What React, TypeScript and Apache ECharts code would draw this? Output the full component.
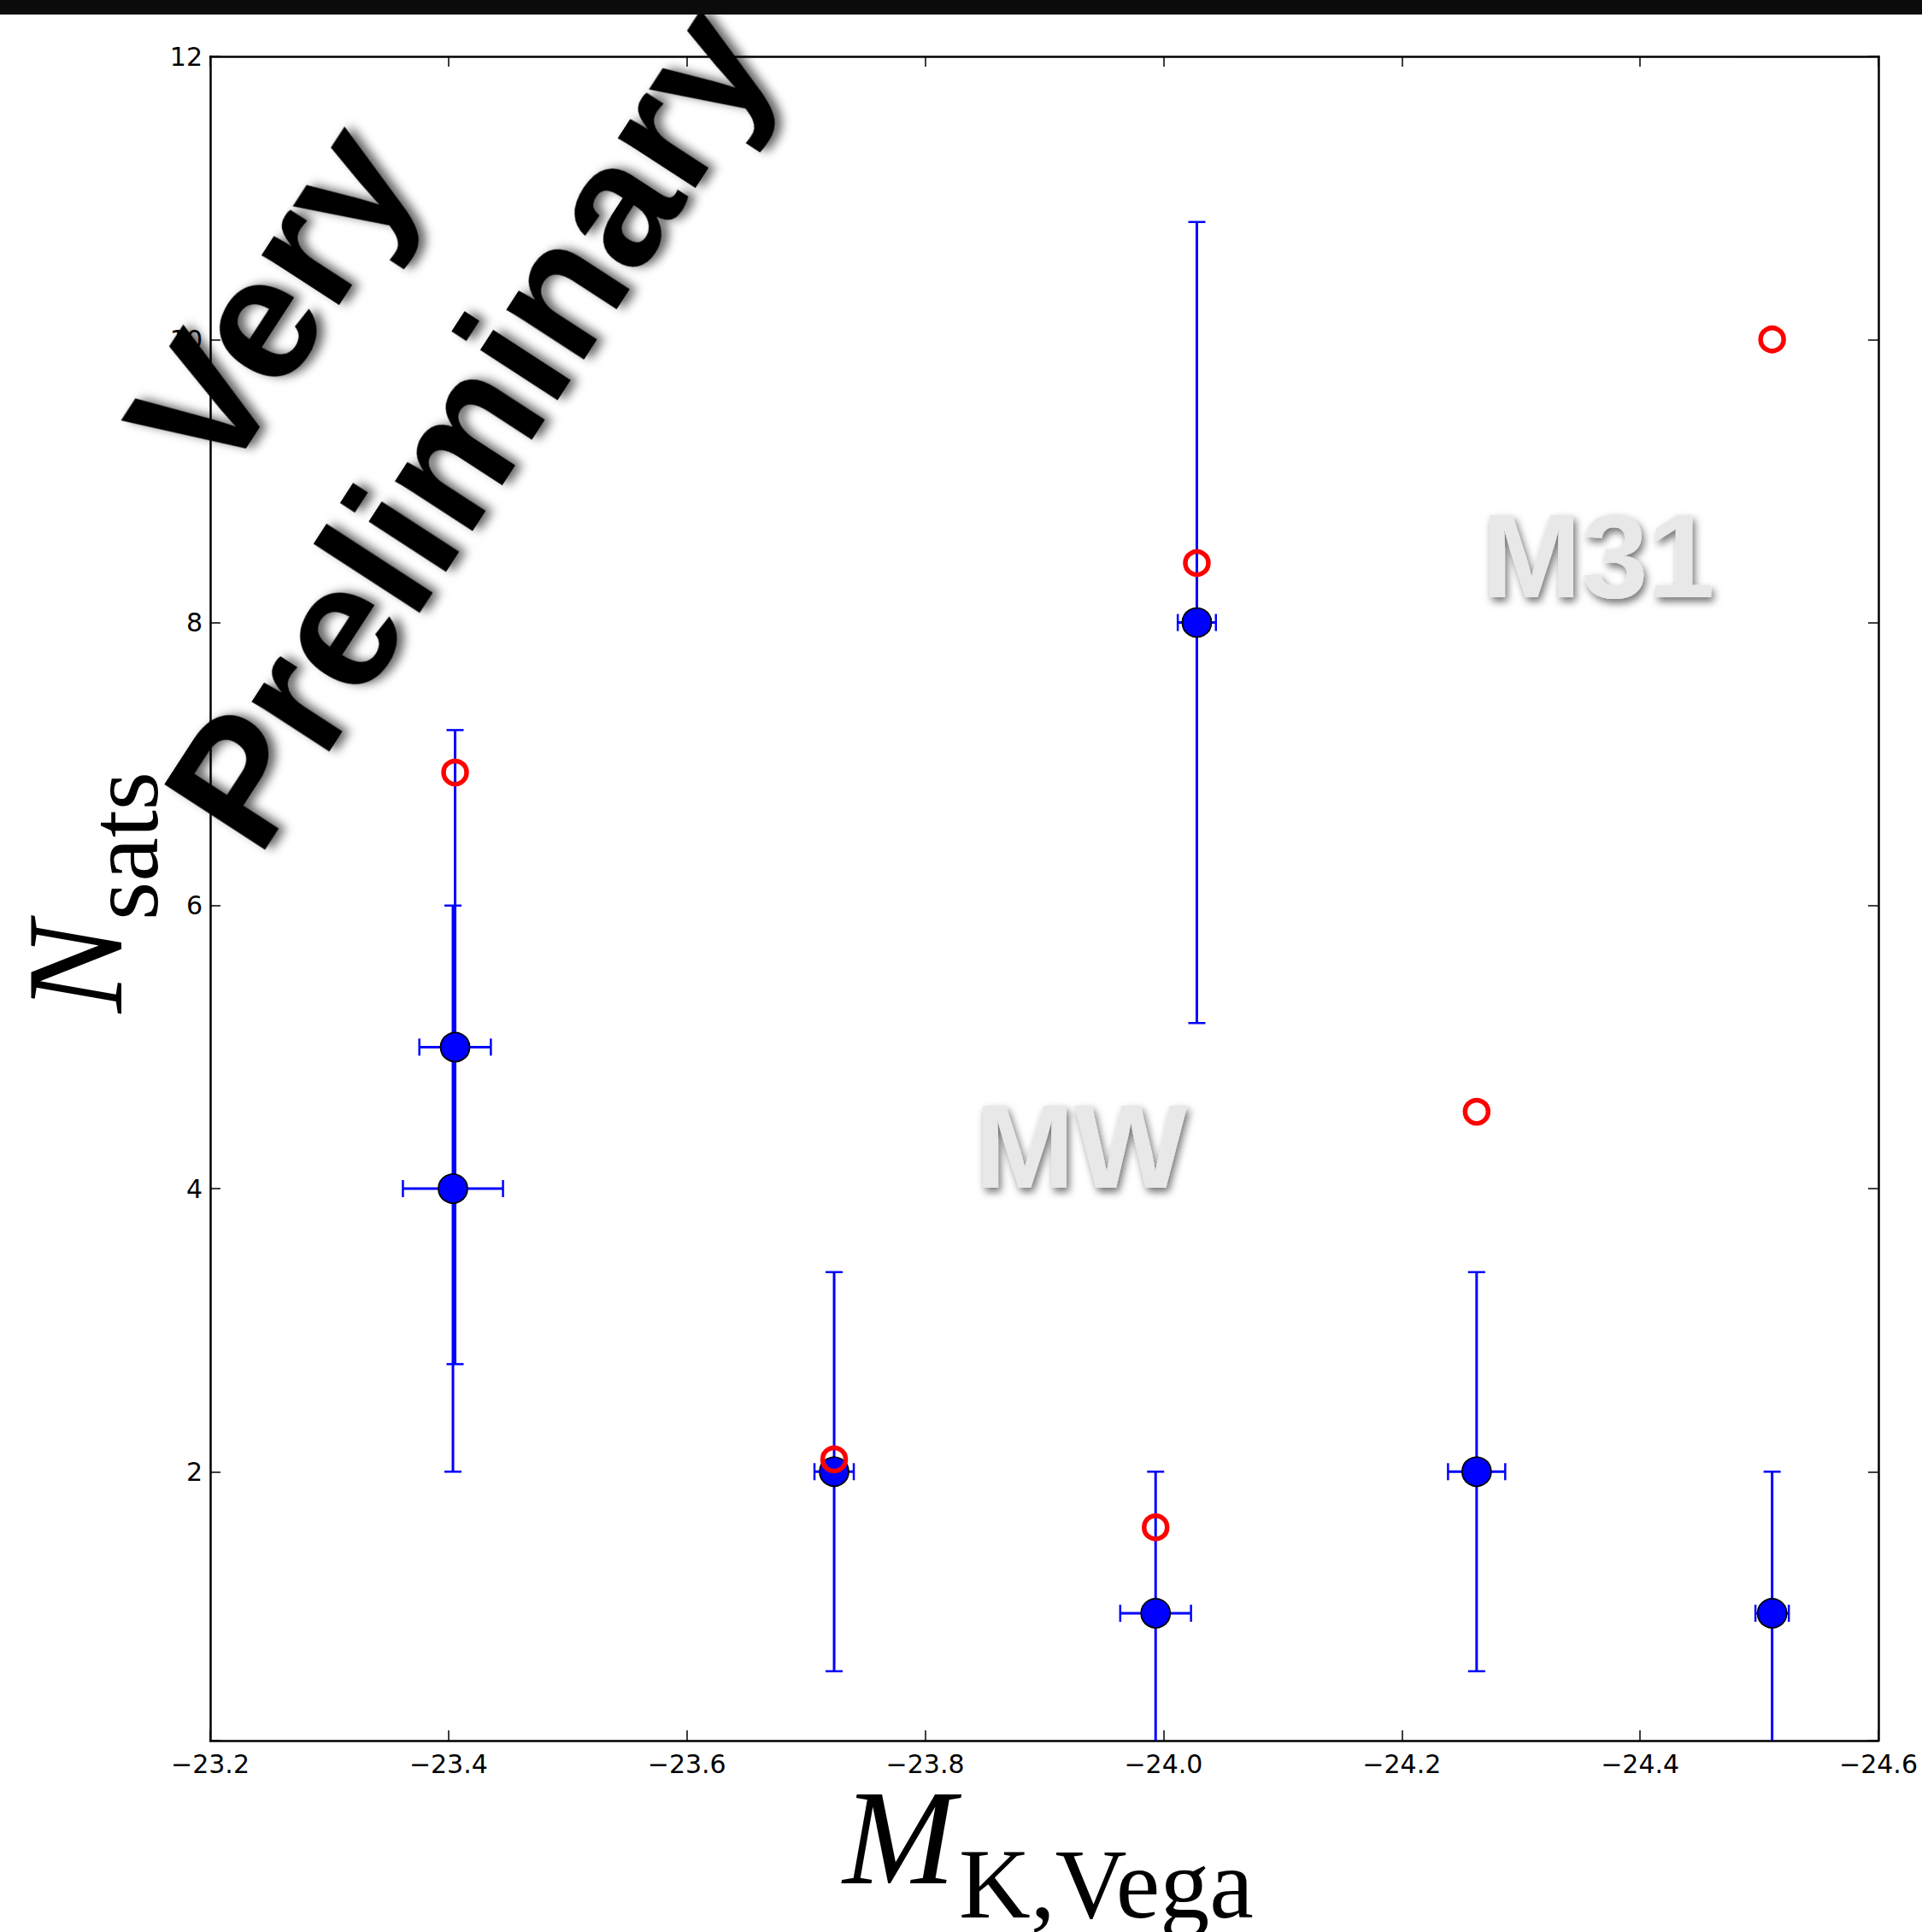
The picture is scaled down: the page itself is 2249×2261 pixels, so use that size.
import React, { useEffect, useRef } from 'react';
import * as echarts from 'echarts';

// Observed satellites (blue filled points with error bars)
const magK = [-23.4055, -23.4037, -23.7236, -23.9934, -24.028, -24.2628, -24.5108];
const nSats = [5, 4, 2, 1, 8, 2, 1];
const nSatsErr = [2.24, 2.0, 1.41, 1.0, 2.83, 1.41, 1.0];
const magKErr = [0.03, 0.042, 0.0165, 0.0297, 0.016, 0.024, 0.014];

// Red open circles
const predMagK = [-23.4055, -23.7236, -23.9934, -24.028, -24.2628, -24.5108];
const predN = [6.94, 2.087, 1.607, 8.42, 4.543, 10.0];

// Axis extents
const xMin = -24.6;
const xMax = -23.2;
const xStep = 0.2;
const yMin = 0.1;
const yMax = 12;

const W = 2249;
const H = 2261;
const GRID = { left: 246, top: 66, right: 51, bottom: 224 };
const DEG = Math.PI / 180;

const fmtX = (v: number) => v.toFixed(1).replace('-', '\u2212');
const fmtY = (v: number) => (Math.abs(v - Math.round(v)) < 1e-6 ? String(Math.round(v)) : '');

export default function App() {
  const ref = useRef<HTMLDivElement>(null);

  useEffect(() => {
    document.body.style.margin = '0';
    if (!ref.current) return;
    const chart = echarts.init(ref.current, undefined, { renderer: 'svg' });

    const axisLineStyle = { color: '#000', width: 2.5 };
    const tickStyle = { color: '#000', width: 1.5 };

    const errData = magK.map((x, i) => [x, nSats[i], magKErr[i], nSatsErr[i]]);

    const option: any = {
      animation: false,
      backgroundColor: '#ffffff',
      grid: { left: GRID.left, top: GRID.top, right: GRID.right, bottom: GRID.bottom, containLabel: false },
      xAxis: [
        {
          type: 'value', position: 'bottom', min: xMin, max: xMax, interval: xStep, inverse: true,
          axisLine: { show: true, onZero: false, lineStyle: axisLineStyle },
          axisTick: { show: true, inside: true, length: 12, lineStyle: tickStyle },
          axisLabel: {
            show: true, formatter: fmtX, fontFamily: 'DejaVu Sans', fontSize: 30, color: '#000', margin: 12,
            showMinLabel: true, showMaxLabel: true,
          },
          splitLine: { show: false },
        },
        {
          type: 'value', position: 'top', min: xMin, max: xMax, interval: xStep, inverse: true,
          axisLine: { show: true, onZero: false, lineStyle: axisLineStyle },
          axisTick: { show: true, inside: true, length: 12, lineStyle: tickStyle },
          axisLabel: { show: false },
          splitLine: { show: false },
        },
      ],
      yAxis: [
        {
          type: 'value', position: 'left', min: yMin, max: yMax,
          axisLine: { show: true, onZero: false, lineStyle: axisLineStyle },
          axisTick: { show: true, inside: true, length: 12, lineStyle: tickStyle },
          axisLabel: { show: true, formatter: fmtY, fontFamily: 'DejaVu Sans', fontSize: 30, color: '#000', margin: 9, showMinLabel: true, showMaxLabel: true },
          splitLine: { show: false },
        },
        {
          type: 'value', position: 'right', min: yMin, max: yMax,
          axisLine: { show: true, onZero: false, lineStyle: axisLineStyle },
          axisTick: { show: true, inside: true, length: 12, lineStyle: tickStyle },
          axisLabel: { show: false },
          splitLine: { show: false },
        },
      ],
      series: [
        {
          type: 'custom',
          xAxisIndex: 0,
          yAxisIndex: 0,
          clip: true,
          data: errData,
          encode: { x: 0, y: 1 },
          z: 2,
          renderItem: (params: any, api: any) => {
            const x = api.value(0);
            const y = api.value(1);
            const ex = api.value(2);
            const ey = api.value(3);
            const pT = api.coord([x, y + ey]);
            const pB = api.coord([x, y - ey]);
            const pL = api.coord([x - ex, y]);
            const pR = api.coord([x + ex, y]);
            const cap = 10;
            const st = { stroke: '#0000ff', lineWidth: 3, fill: 'none' };
            const cs = { stroke: '#0000ff', lineWidth: 2.5, fill: 'none' };
            return {
              type: 'group',
              children: [
                { type: 'line', shape: { x1: pT[0], y1: pT[1], x2: pB[0], y2: pB[1] }, style: st },
                { type: 'line', shape: { x1: pL[0], y1: pL[1], x2: pR[0], y2: pR[1] }, style: st },
                { type: 'line', shape: { x1: pT[0] - cap, y1: pT[1], x2: pT[0] + cap, y2: pT[1] }, style: cs },
                { type: 'line', shape: { x1: pB[0] - cap, y1: pB[1], x2: pB[0] + cap, y2: pB[1] }, style: cs },
                { type: 'line', shape: { x1: pL[0], y1: pL[1] - cap, x2: pL[0], y2: pL[1] + cap }, style: cs },
                { type: 'line', shape: { x1: pR[0], y1: pR[1] - cap, x2: pR[0], y2: pR[1] + cap }, style: cs },
              ],
            };
          },
        },
        {
          type: 'scatter',
          xAxisIndex: 0,
          yAxisIndex: 0,
          z: 3,
          symbol: 'circle',
          symbolSize: 34,
          itemStyle: { color: '#0000ff', borderColor: '#000000', borderWidth: 1.8, opacity: 1 },
          data: magK.map((x, i) => [x, nSats[i]]),
        },
        {
          type: 'scatter',
          xAxisIndex: 0,
          yAxisIndex: 0,
          z: 4,
          symbol: 'circle',
          symbolSize: 27,
          itemStyle: { color: 'rgba(0,0,0,0)', borderColor: '#ff0000', borderWidth: 5.5, opacity: 1 },
          data: predMagK.map((x, i) => [x, predN[i]]),
        },
      ],
      graphic: [
        { type: 'rect', left: 0, top: 0, z: 100, shape: { x: 0, y: 0, width: W, height: 17 }, style: { fill: '#0b0b0b' } },
        // x-axis title
        {
          type: 'text', x: 1052, y: 2150, z: 50,
          style: { text: 'M', fill: '#000', fontFamily: 'Liberation Serif', fontStyle: 'italic', fontSize: 158, lineHeight: 110, align: 'center', verticalAlign: 'middle', textAlign: 'center', textVerticalAlign: 'middle' },
        },
        {
          type: 'text', x: 1122, y: 2205, z: 50,
          style: { text: 'K,Vega', fill: '#000', fontFamily: 'Liberation Serif', fontSize: 116, lineHeight: 80, align: 'left', verticalAlign: 'middle', textAlign: 'left', textVerticalAlign: 'middle' },
        },
        // y-axis title
        {
          type: 'text', x: 88, y: 1132, rotation: Math.PI / 2, z: 50,
          style: { text: 'N', fill: '#000', fontFamily: 'Liberation Serif', fontStyle: 'italic', fontSize: 160, lineHeight: 110, align: 'center', verticalAlign: 'middle', textAlign: 'center', textVerticalAlign: 'middle' },
        },
        {
          type: 'text', x: 145, y: 1077, rotation: Math.PI / 2, z: 50,
          style: { text: 'sats', fill: '#000', fontFamily: 'Liberation Serif', fontSize: 116, lineHeight: 80, align: 'left', verticalAlign: 'middle', textAlign: 'left', textVerticalAlign: 'middle' },
        },
        // MW / M31 labels
        {
          type: 'text', x: 1265, y: 1341, z: 60,
          style: {
            text: 'MW', fill: '#e8e8e8', fontFamily: 'Liberation Sans', fontWeight: 'bold', fontSize: 140,
            align: 'center', verticalAlign: 'middle', textAlign: 'center', textVerticalAlign: 'middle',
            textShadowColor: 'rgba(0,0,0,0.55)', textShadowBlur: 10, textShadowOffsetX: 3, textShadowOffsetY: 5,
          },
        },
        {
          type: 'text', x: 1870, y: 650, z: 60,
          style: {
            text: 'M31', fill: '#e8e8e8', fontFamily: 'Liberation Sans', fontWeight: 'bold', fontSize: 140,
            align: 'center', verticalAlign: 'middle', textAlign: 'center', textVerticalAlign: 'middle',
            textShadowColor: 'rgba(0,0,0,0.55)', textShadowBlur: 10, textShadowOffsetX: 3, textShadowOffsetY: 5,
          },
        },
        // Very Preliminary watermark
        {
          type: 'text', x: 432, y: 424, rotation: 57 * DEG, z: 90,
          style: {
            text: 'Very\nPreliminary', fill: '#000', fontFamily: 'Liberation Sans', fontWeight: 'bold', fontSize: 205,
            lineHeight: 275, align: 'center', verticalAlign: 'middle', textAlign: 'center', textVerticalAlign: 'middle',
            textShadowColor: 'rgba(0,0,0,0.6)', textShadowBlur: 12, textShadowOffsetX: 5, textShadowOffsetY: 7,
          },
        },
      ],
    };

    chart.setOption(option);
    return () => {
      chart.dispose();
    };
  }, []);

  return <div ref={ref} style={{ width: W, height: H, background: '#fff' }} />;
}
